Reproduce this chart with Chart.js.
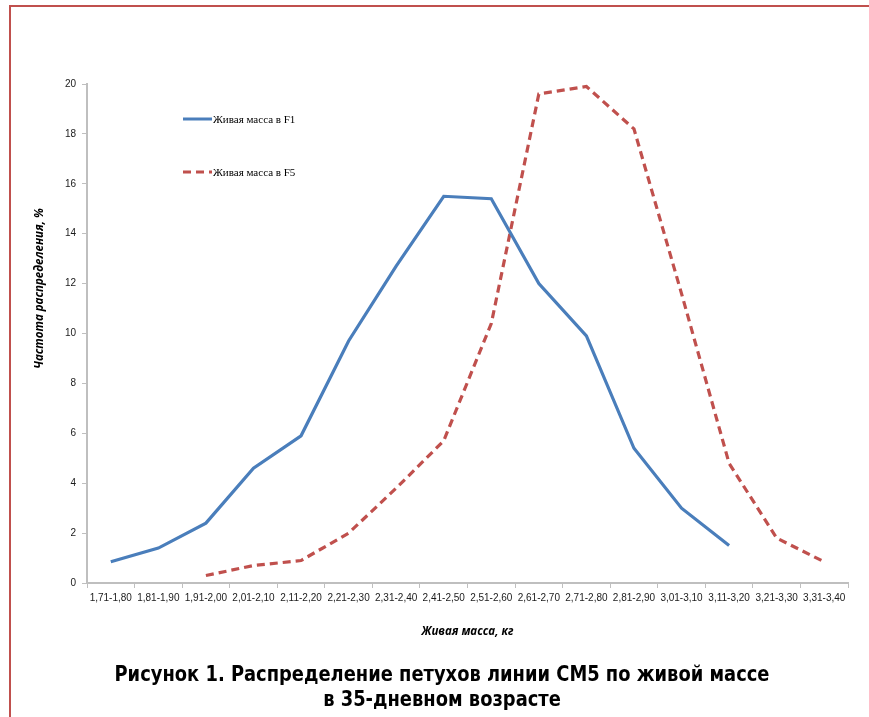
<!DOCTYPE html>
<html lang="ru">
<head>
<meta charset="utf-8">
<title>Распределение петухов линии СМ5 по живой массе</title>
<script src="https://cdn.jsdelivr.net/npm/chart.js@4/dist/chart.umd.min.js"></script>
<style>
  html, body { margin: 0; padding: 0; background: #ffffff; }
  #wrap { position: relative; width: 869px; height: 717px; }
  canvas { display: block; }
</style>
</head>
<body>
<div id="wrap"><canvas id="chart" width="869" height="717"></canvas></div>
<script>
// Весовые классы, кг
const weightClasses = [
  '1,71-1,80', '1,81-1,90', '1,91-2,00', '2,01-2,10', '2,11-2,20', '2,21-2,30',
  '2,31-2,40', '2,41-2,50', '2,51-2,60', '2,61-2,70', '2,71-2,80', '2,81-2,90',
  '3,01-3,10', '3,11-3,20', '3,21-3,30', '3,31-3,40'
];

// Частота распределения, %
const massF1 = [0.85, 1.4, 2.4, 4.6, 5.9, 9.7, 12.7, 15.5, 15.4, 12.0, 9.9, 5.4, 3.0, 1.5, null, null];
const massF5 = [null, null, 0.3, 0.7, 0.9, 2.0, 3.8, 5.7, 10.4, 19.6, 19.9, 18.2, 11.6, 4.8, 1.8, 0.85];

const seriesNames = ['Живая масса в F1', 'Живая масса в F5'];
const yTitle = 'Частота распределения, %';
const xTitle = 'Живая масса, кг';
const captionLines = [
  'Рисунок 1. Распределение петухов линии СМ5 по живой массе',
  'в 35-дневном возрасте'
];

const BLUE = '#4a7ebb';
const RED = '#c0504d';
const AXIS = '#bfbfbf';

// Рамка, подписи осей, легенда и подрисуночная подпись
const decorations = {
  id: 'decorations',
  afterDraw(chart) {
    const ctx = chart.ctx;
    const area = chart.chartArea;
    ctx.save();

    // рамка слева и сверху
    ctx.strokeStyle = RED;
    ctx.lineWidth = 2;
    ctx.beginPath();
    ctx.moveTo(10, 717);
    ctx.lineTo(10, 6);
    ctx.lineTo(869, 6);
    ctx.stroke();

    // подпись оси Y
    ctx.fillStyle = '#000000';
    ctx.font = 'italic bold 11.5px "Open Sans", "Noto Sans", sans-serif';
    ctx.textAlign = 'center';
    ctx.textBaseline = 'middle';
    ctx.save();
    ctx.translate(40, (area.top + area.bottom) / 2 - 45);
    ctx.rotate(-Math.PI / 2);
    ctx.fillText(yTitle, 0, 0);
    ctx.restore();

    // подпись оси X
    ctx.fillText(xTitle, (area.left + area.right) / 2, 632);

    // легенда
    const items = chart.data.datasets;
    const legendY = [119, 172];
    items.forEach((ds, i) => {
      const y = legendY[i];
      ctx.save();
      ctx.strokeStyle = ds.borderColor;
      ctx.lineWidth = 3;
      ctx.setLineDash(ds.borderDash || []);
      ctx.beginPath();
      ctx.moveTo(183, y);
      ctx.lineTo(212, y);
      ctx.stroke();
      ctx.restore();
      ctx.fillStyle = '#000000';
      ctx.font = '11px "Liberation Serif", "Times New Roman", serif';
      ctx.textAlign = 'left';
      ctx.textBaseline = 'middle';
      ctx.fillText(ds.label, 213, y + 1);
    });

    // подрисуночная подпись: сжатый жирный шрифт
    ctx.fillStyle = '#000000';
    ctx.textAlign = 'center';
    ctx.textBaseline = 'middle';
    ctx.font = 'bold 21px "DejaVu Sans Condensed", "Liberation Sans Narrow", sans-serif';
    const w0 = ctx.measureText(captionLines[0]).width;
    const sx = 655 / w0;
    captionLines.forEach((line, i) => {
      ctx.save();
      ctx.translate(442, 676 + i * 25);
      ctx.scale(sx, 1);
      ctx.fillText(line, 0, 0);
      ctx.restore();
    });

    ctx.restore();
  }
};

new Chart(document.getElementById('chart'), {
  type: 'line',
  data: {
    labels: weightClasses,
    datasets: [
      {
        label: seriesNames[0],
        data: massF1,
        borderColor: BLUE,
        backgroundColor: BLUE,
        borderWidth: 3.2,
        pointRadius: 0,
        pointHoverRadius: 0,
        tension: 0,
        fill: false
      },
      {
        label: seriesNames[1],
        data: massF5,
        borderColor: RED,
        backgroundColor: RED,
        borderWidth: 3.2,
        borderDash: [8, 5],
        pointRadius: 0,
        pointHoverRadius: 0,
        tension: 0,
        fill: false
      }
    ]
  },
  options: {
    responsive: false,
    animation: false,
    events: [],
    layout: { padding: { left: 0, right: 21, top: 84, bottom: 0 } },
    plugins: {
      legend: { display: false },
      title: { display: false },
      tooltip: { enabled: false }
    },
    scales: {
      x: {
        type: 'category',
        offset: true,
        afterFit(scale) { scale.height = 134; },
        grid: {
          offset: true,
          drawOnChartArea: false,
          drawTicks: true,
          tickLength: 5,
          color: AXIS,
          lineWidth: 1
        },
        border: { display: true, color: AXIS, width: 2 },
        ticks: {
          autoSkip: false,
          maxRotation: 0,
          minRotation: 0,
          padding: 4,
          color: '#1a1a1a',
          font: { family: '"Liberation Sans", Arial, sans-serif', size: 10 }
        }
      },
      y: {
        min: 0,
        max: 20,
        afterFit(scale) { scale.width = 87; },
        grid: {
          drawOnChartArea: false,
          drawTicks: true,
          tickLength: 5,
          color: AXIS,
          lineWidth: 1
        },
        border: { display: true, color: AXIS, width: 2 },
        ticks: {
          stepSize: 2,
          padding: 6,
          color: '#1a1a1a',
          font: { family: '"Liberation Sans", Arial, sans-serif', size: 10 }
        }
      }
    }
  },
  plugins: [decorations]
});
</script>
</body>
</html>
